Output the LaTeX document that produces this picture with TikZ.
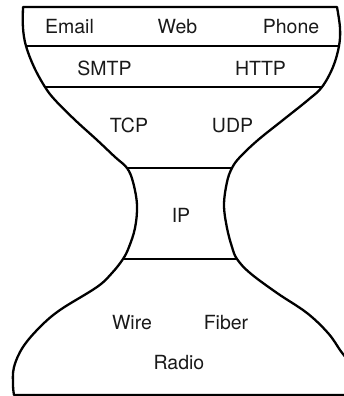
\documentclass[tikz,border=0pt]{standalone}
\usepackage{fontspec}
\setmainfont{TeX Gyre Heros}

\begin{document}
\begin{tikzpicture}
    [x = 1pt, y = -1pt,
    outline/.style = {line width = 2.3pt, line join = round},
    layer/.style = {line width = 2.3pt},
    proto/.style = {anchor = base, inner sep = 0pt, text = black!90,
        font = \fontsize{19.5}{21}\selectfont}
    ]
    \useasboundingbox (0,0) rectangle (343,396);

    \coordinate (L1) at (23,7);
    \coordinate (L2) at (26,46);
    \coordinate (L3) at (45,87);
    \coordinate (L4) at (127,168);
    \coordinate (L5) at (123,259);
    \coordinate (L6) at (14,395);
    \coordinate (R1) at (337,7);
    \coordinate (R2) at (339,46);
    \coordinate (R3) at (322,87);
    \coordinate (R4) at (232,168);
    \coordinate (R5) at (237,259);
    \coordinate (R6) at (352,395);

    \draw [outline]
        plot [smooth, tension = 0.6] coordinates {
            (L1) (23,28) (L2) (34,67) (L3) (55,100) (75,120) (97,140)
            (115,157) (L4) (133,182) (137,205) (135,228) (129,247) (L5)
            (112,273) (97,287) (60,310) (40,327) (23,347) (14,367) (13,385) (L6)}
        -- plot [smooth, tension = 0.6] coordinates {
            (R6) (352,380) (348,362) (340,350) (328,333) (307,313) (277,293)
            (250,273) (R5) (232,247) (227,228) (224,205) (227,182) (R4)
            (240,157) (258,140) (283,120) (308,100) (R3) (333,67) (R2) (340,28) (R1)}
        -- cycle;

    \draw [layer] (L2) -- (R2);
    \draw [layer] (L3) -- (R3);
    \draw [layer] (L4) -- (R4);
    \draw [layer] (L5) -- (R5);

    \node (email) [proto] at (69.5,34) {Email};
    \node (web)   [proto] at (177.5,34) {Web};
    \node (phone) [proto] at (291,34) {Phone};
    \node (smtp)  [proto] at (104.5,75) {SMTP};
    \node (http)  [proto] at (260.5,75) {HTTP};
    \node (tcp)   [proto] at (129,132) {TCP};
    \node (udp)   [proto] at (232.5,132) {UDP};
    \node (ip)    [proto] at (181,222) {IP};
    \node (wire)  [proto] at (132,329) {Wire};
    \node (fiber) [proto] at (226,329) {Fiber};
    \node (radio) [proto] at (179,369) {Radio};
\end{tikzpicture}
\end{document}
